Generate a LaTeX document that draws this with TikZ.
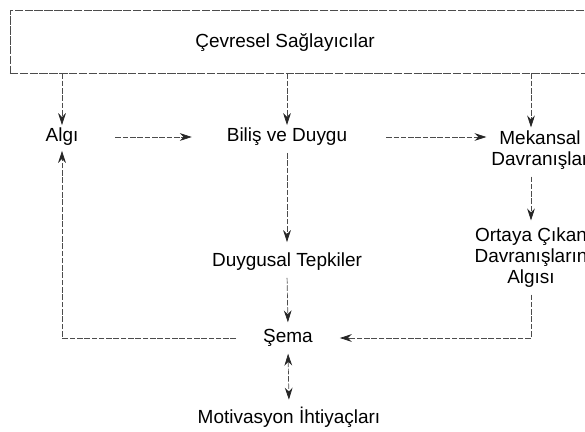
\documentclass[tikz,border=0pt]{standalone}
\usepackage{fontspec}
\setmainfont{Liberation Sans}
\usepackage{tikz}
\usetikzlibrary{arrows.meta,positioning,calc}

\begin{document}
\begin{tikzpicture}[x=0.025cm,y=-0.025cm,>={Stealth[length=8.5pt,width=5.5pt,inset=2.8pt,black!85]}]
   \useasboundingbox (0,0) rectangle (585,432);
   \tikzstyle{lbl}=[font=\fontsize{13.5}{15}\selectfont, align=center, inner sep=2pt]
   \tikzstyle{link}=[->, draw=black!70, line width=0.5pt, dash pattern=on 4pt off 1.2pt]
   \tikzstyle{envbox}=[draw=black!70, line width=0.6pt, dash pattern=on 6pt off 1pt, minimum width=15cm, minimum height=1.575cm]
   % box on top
   \node[envbox] (env) at (310,41.5) {};
   \node[lbl] (envlbl) at (285,43) {Çevresel Sağlayıcılar};
   % the nodes
   \node[lbl] (algi) at (62,137) {Algı};
   \node[lbl] (bilis) at (287,137) {Biliş ve Duygu};
   \node[lbl] (mek) at (540,150) {Mekansal\\Davranışlar};
   \node[lbl] (duyg) at (287,262) {Duygusal Tepkiler};
   \node[lbl] (ortaya) at (531,257.5) {Ortaya Çıkan\\Davranışların\\Algısı};
   \node[lbl] (sema) at (288,338) {Şema};
   \node[lbl] (motiv) at (289,417) {Motivasyon İhtiyaçları};
   % arrows from the box
   \foreach \n/\c in {algi/algi,bilis/bilis,mek/ortaya} {
       \path (env.south -| \c) edge[link] (\n.north -| \c);
   }
   \path (algi.east) edge[link, shorten <=0.85cm, shorten >=0.8cm] (bilis.west);
   \path (bilis.east) edge[link, shorten <=0.9cm, shorten >=0.05cm] (bilis.east -| mek.west);
   \path (bilis.south) edge[link, shorten <=0.1cm, shorten >=0.2cm] (duyg.north);
   \path (mek.south -| ortaya) edge[link, shorten <=0.1cm, shorten >=0.1cm] (ortaya.north);
   \path (duyg.south) edge[link, shorten <=0.1cm, shorten >=0.1cm] (sema.north);
   \draw[link, shorten <=0.1cm, shorten >=0.6cm] (ortaya.south) |- (sema.east);
   \draw[link, shorten <=0.6cm, shorten >=0.05cm] (sema.west) -| (algi.south);
   \path (sema.south) edge[link, <->, shorten <=0.1cm, shorten >=0.1cm] (motiv.north);
\end{tikzpicture}
\end{document}
